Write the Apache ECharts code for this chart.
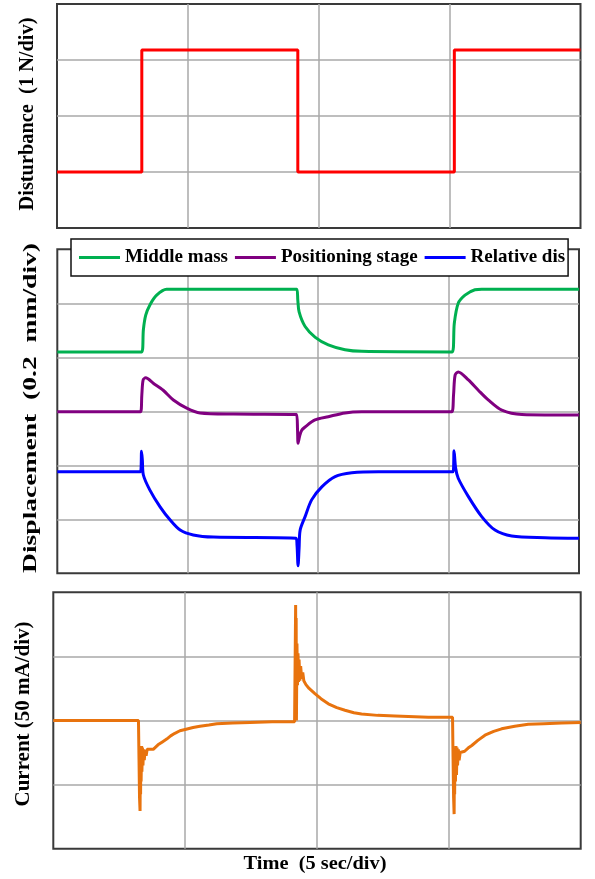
<!DOCTYPE html>
<html>
<head>
<meta charset="utf-8">
<script src="https://cdn.jsdelivr.net/npm/echarts@6/dist/echarts.min.js"></script>
<style>
html,body{margin:0;padding:0;background:#fff;}
#chart{width:595px;height:879px;}
</style>
</head>
<body>
<div id="chart"></div>
<script>
// ---------- data (time in seconds, values in divisions) ----------
const disturbanceT = [0, 3.24, 3.24, 9.20, 9.20, 15.18, 15.18, 20];
const disturbanceV = [1, 1, 3.18, 3.18, 1, 1, 3.18, 3.18];

const middleT = [0, 3.24, 3.30, 3.39, 3.55, 3.81, 4.19, 9.18, 9.22, 9.27, 9.50, 9.89, 10.39, 11.03, 11.67, 15.14, 15.22, 15.37, 15.63, 16.01, 16.27, 20];
const middleV = [4.10, 4.10, 4.51, 4.78, 4.97, 5.15, 5.26, 5.26, 5.06, 4.84, 4.57, 4.37, 4.23, 4.14, 4.11, 4.10, 4.63, 5.00, 5.15, 5.25, 5.26, 5.26];

const stageT = [0, 3.19, 3.24, 3.29, 3.39, 3.68, 4.06, 4.45, 4.96, 5.47, 6.75, 9.17, 9.21, 9.23, 9.29, 9.37, 9.50, 9.88, 10.39, 11.03, 11.67, 15.12, 15.19, 15.25, 15.37, 15.76, 16.14, 16.52, 17.04, 17.81, 20];
const stageV = [2.99, 2.99, 3.30, 3.58, 3.62, 3.52, 3.39, 3.21, 3.06, 2.97, 2.95, 2.94, 2.65, 2.41, 2.54, 2.65, 2.71, 2.84, 2.90, 2.97, 2.99, 2.99, 3.30, 3.67, 3.73, 3.58, 3.39, 3.21, 3.02, 2.94, 2.93];

const relativeT = [0, 3.19, 3.23, 3.26, 3.30, 3.55, 3.94, 4.32, 4.71, 5.21, 5.98, 9.15, 9.19, 9.23, 9.27, 9.31, 9.50, 9.75, 10.14, 10.65, 11.29, 12.31, 15.17, 15.21, 15.27, 15.37, 15.76, 16.27, 16.78, 17.42, 18.70, 20];
const relativeV = [1.88, 1.88, 2.26, 2.10, 1.82, 1.54, 1.23, 0.99, 0.80, 0.71, 0.67, 0.65, 0.52, 0.14, 0.47, 0.80, 1.05, 1.36, 1.60, 1.79, 1.86, 1.88, 1.88, 2.27, 1.95, 1.76, 1.42, 1.05, 0.80, 0.69, 0.66, 0.65];

const currentT = [0, 3.23, 3.25, 3.27, 3.29, 3.30, 3.31, 3.32, 3.33, 3.35, 3.36, 3.38, 3.40, 3.42, 3.45, 3.48, 3.52, 3.56, 3.67, 3.79, 3.97, 4.15, 4.30, 4.45, 4.61, 4.80, 5.00, 5.30, 5.56, 5.90, 6.20, 6.80, 7.46, 8.30, 9.15,
  9.17, 9.19, 9.20, 9.21, 9.22, 9.24, 9.26, 9.28, 9.30, 9.32, 9.35, 9.38, 9.42, 9.46, 9.50, 9.58, 9.70, 9.92, 10.15, 10.43, 10.75, 11.06, 11.40, 11.69, 12.30, 12.96, 14.22, 15.14,
  15.16, 15.18, 15.20, 15.21, 15.22, 15.23, 15.25, 15.27, 15.29, 15.31, 15.33, 15.36, 15.39, 15.43, 15.49, 15.60, 15.73, 15.87, 16.10, 16.37, 16.70, 17.00, 17.50, 18.01, 18.60, 19.28, 20];
const currentV = [0, 0, -0.60, -1.20, -1.41, -0.70, -1.15, -0.45, -0.95, -0.40, -0.80, -0.42, -0.70, -0.45, -0.62, -0.46, -0.55, -0.45, -0.45, -0.45, -0.38, -0.33, -0.29, -0.24, -0.20, -0.16, -0.14, -0.11, -0.09, -0.07, -0.05, -0.04, -0.03, -0.02, -0.02,
  0.90, 1.80, 0.30, 1.60, 0.00, 1.20, 0.55, 1.05, 0.60, 0.95, 0.62, 0.85, 0.65, 0.75, 0.62, 0.56, 0.50, 0.42, 0.34, 0.26, 0.20, 0.16, 0.12, 0.10, 0.08, 0.07, 0.05, 0.05,
  -0.60, -1.20, -1.46, -0.70, -1.15, -0.45, -0.95, -0.40, -0.85, -0.42, -0.70, -0.45, -0.62, -0.50, -0.52, -0.48, -0.43, -0.39, -0.31, -0.23, -0.17, -0.13, -0.09, -0.06, -0.05, -0.04, -0.03];

const seriesNames = ['Middle mass', 'Positioning stage', 'Relative dis'];
const axisTitles = ['Disturbance  (1 N/div)', 'Displacement  (0.2  mm/div)', 'Current (50 mA/div)'];
const timeTitle = 'Time  (5 sec/div)';

// ---------- layout ----------
const grids = [
  {left: 57, top: 4, width: 523.5, height: 224},
  {left: 57.3, top: 249.3, width: 521.7, height: 324},
  {left: 53.3, top: 592.3, width: 527.4, height: 256.4}
];
const yRanges = [[0, 4], [0, 6], [-2, 2]];
const FONT = '"Liberation Serif", "Times New Roman", serif';

function zip(t, v) { return t.map((x, i) => [x, v[i]]); }

const measureCtx = document.createElement('canvas').getContext('2d');
function textWidth(txt, size) {
  measureCtx.font = 'bold ' + size + 'px ' + FONT;
  return measureCtx.measureText(txt).width;
}
function label(txt, x, y, size, targetLen, rotated) {
  const s = targetLen / textWidth(txt, size);
  return {
    type: 'text', x: x, y: y,
    rotation: rotated ? Math.PI / 2 : 0,
    scaleX: s, scaleY: 1,
    style: {text: txt, fill: '#000', fontFamily: FONT, fontWeight: 'bold', fontSize: size,
            align: 'center', verticalAlign: 'middle'},
    z: 10
  };
}

const gridLine = {show: true, showMinLine: false, showMaxLine: false, lineStyle: {color: '#a9a9a9', width: 1.5}};

const option = {
  animation: false,
  backgroundColor: '#fff',
  grid: grids.map(g => Object.assign({show: true, borderColor: '#3a3a3a', borderWidth: 2, backgroundColor: 'transparent'}, g)),
  xAxis: grids.map((g, i) => ({
    type: 'value', gridIndex: i, min: 0, max: 20, interval: 5,
    axisLabel: {show: false}, axisTick: {show: false}, axisLine: {show: false},
    splitLine: gridLine
  })),
  yAxis: grids.map((g, i) => ({
    type: 'value', gridIndex: i, min: yRanges[i][0], max: yRanges[i][1], interval: 1,
    axisLabel: {show: false}, axisTick: {show: false}, axisLine: {show: false},
    splitLine: gridLine
  })),
  legend: {
    data: seriesNames,
    left: 71, top: 239,
    padding: [9, 3, 9, 8],
    itemGap: 7,
    itemWidth: 41, itemHeight: 3,
    icon: 'rect',
    backgroundColor: '#fff',
    borderColor: '#111', borderWidth: 1.5,
    textStyle: {color: '#000', fontFamily: FONT, fontWeight: 'bold', fontSize: 19},
    selectedMode: false
  },
  series: [
    {name: 'Disturbance', type: 'line', xAxisIndex: 0, yAxisIndex: 0, data: zip(disturbanceT, disturbanceV),
     symbol: 'none', lineStyle: {color: '#ff0000', width: 3}, itemStyle: {color: '#ff0000'}},
    {name: seriesNames[0], type: 'line', xAxisIndex: 1, yAxisIndex: 1, data: zip(middleT, middleV), smooth: 0.3,
     symbol: 'none', lineStyle: {color: '#00b050', width: 3}, itemStyle: {color: '#00b050'}},
    {name: seriesNames[1], type: 'line', xAxisIndex: 1, yAxisIndex: 1, data: zip(stageT, stageV), smooth: 0.3,
     symbol: 'none', lineStyle: {color: '#800080', width: 3}, itemStyle: {color: '#800080'}},
    {name: seriesNames[2], type: 'line', xAxisIndex: 1, yAxisIndex: 1, data: zip(relativeT, relativeV), smooth: 0.3,
     symbol: 'none', lineStyle: {color: '#0000ff', width: 3}, itemStyle: {color: '#0000ff'}},
    {name: 'Current', type: 'line', xAxisIndex: 2, yAxisIndex: 2, data: zip(currentT, currentV),
     symbol: 'none', lineStyle: {color: '#e8730e', width: 3}, itemStyle: {color: '#e8730e'}}
  ],
  graphic: [
    label(axisTitles[0], 28, 114, 20, 193, true),
    label(axisTitles[1], 31, 408, 19, 330, true),
    label(axisTitles[2], 24, 714, 20, 185, true),
    label(timeTitle, 315, 864, 19, 143, false)
  ]
};

const chart = echarts.init(document.getElementById('chart'), null, {renderer: 'canvas'});
chart.setOption(option);
</script>
</body>
</html>
